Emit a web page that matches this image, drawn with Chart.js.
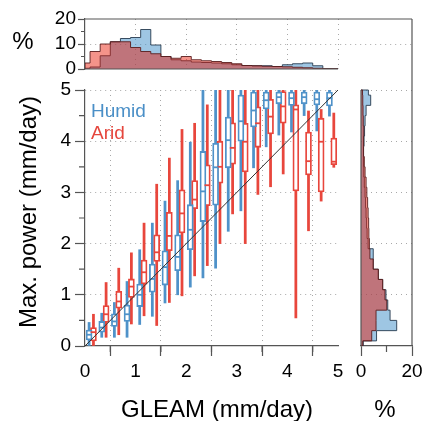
<!DOCTYPE html>
<html>
<head>
<meta charset="utf-8">
<script src="https://cdn.jsdelivr.net/npm/chart.js@4.4.1/dist/chart.umd.min.js"></script>
<style>
body { margin: 0; background: #fff; }
#wrap { position: relative; width: 427px; height: 421px; font-family: "Liberation Sans", Arial, sans-serif; }
#wrap canvas { position: absolute; left: 0; top: 0; }
.txt { position: absolute; white-space: nowrap; line-height: 1; color: #000; }
</style>
</head>
<body>
<div id="wrap">
  <canvas id="main" width="427" height="421"></canvas>
  <canvas id="topHist" width="427" height="421"></canvas>
  <canvas id="sideHist" width="427" height="421"></canvas>
  <div class="txt" style="left:23px;top:41px;font-size:24px;transform:translate(-50%,-50%);">%</div>
  <div class="txt" style="left:28px;top:212px;font-size:24px;transform:translate(-50%,-50%) rotate(-90deg);">Max. power (mm/day)</div>
  <div class="txt" style="left:217px;top:409px;font-size:24px;transform:translate(-50%,-50%);">GLEAM (mm/day)</div>
  <div class="txt" style="left:385px;top:409px;font-size:24px;transform:translate(-50%,-50%);">%</div>
  <div class="txt" style="left:91px;top:101px;font-size:19px;color:#4a8fc7;">Humid</div>
  <div class="txt" style="left:91px;top:123px;font-size:19px;color:#e5463d;">Arid</div>
</div>
<script>
// GLEAM bins (mm/day)
var gleamBins = [0.125, 0.375, 0.625, 0.875, 1.125, 1.375, 1.625, 1.875, 2.125, 2.375,
                 2.625, 2.875, 3.125, 3.375, 3.625, 3.875, 4.125, 4.375, 4.625, 4.875];

// Max. power boxplots, humid
var humidLow  = [0.00, 0.17, 0.17, 0.17, 0.42, 0.58, 0.84, 1.00, 1.15, 1.33, 1.52, 2.24, 2.64, 3.48, 3.89, 4.12, 4.18, 4.50, 4.20, 4.49];
var humidQ1   = [0.12, 0.27, 0.38, 0.48, 0.77, 1.05, 1.19, 1.47, 1.88, 2.43, 2.75, 3.48, 4.00, 4.28, 4.63, 4.73, 4.70, 4.73, 4.71, 4.69];
var humidMed  = [0.22, 0.36, 0.48, 0.62, 1.00, 1.31, 1.54, 1.74, 2.27, 3.02, 3.49, 4.02, 4.39, 4.60, 4.80, 4.86, 4.84, 4.86, 4.82, 4.84];
var humidQ3   = [0.31, 0.48, 0.63, 0.80, 1.21, 1.60, 1.86, 2.17, 2.76, 3.80, 3.96, 4.47, 4.90, 4.96, 4.96, 4.96, 4.96, 4.96, 4.96, 4.96];
var humidHigh = [0.46, 0.64, 0.85, 1.26, 1.88, 2.40, 2.83, 3.23, 3.98, 5.60, 5.80, 6.00, 6.20, 6.20, 6.30, 6.30, 6.30, 6.30, 6.30, 6.30];

// Max. power boxplots, arid
var aridLow  = [0.00, 0.17, 0.22, 0.43, 0.59, 0.40, 0.85, 0.98, 1.37, 1.57, 2.00, 2.58, 2.00, 2.96, 3.11, 3.36, 0.55, 2.25, 2.83, 3.49];
var aridQ1   = [0.10, 0.46, 0.74, 0.95, 1.21, 1.65, 1.86, 2.21, 2.68, 2.74, 3.18, 3.55, 3.40, 3.88, 4.14, 4.35, 3.03, 3.34, 3.01, 3.54];
var aridMed  = [0.27, 0.62, 0.87, 1.16, 1.44, 1.83, 2.15, 2.59, 2.86, 3.14, 3.50, 3.87, 3.99, 4.35, 4.48, 4.68, 4.62, 3.61, 3.99, 3.60];
var aridQ3   = [0.36, 0.79, 1.07, 1.31, 1.68, 2.17, 2.61, 3.05, 3.23, 3.54, 4.00, 4.36, 4.35, 4.67, 4.82, 4.97, 4.71, 4.18, 4.45, 4.06];
var aridHigh = [0.62, 1.24, 1.52, 1.82, 2.40, 3.16, 3.67, 4.23, 4.35, 4.71, 5.60, 5.60, 5.60, 5.60, 5.60, 5.60, 5.60, 4.59, 4.62, 4.55];

// histogram bin edges (left edge of each bin, last bin ends at 5)
var histEdges = [0, 0.1, 0.3, 0.5, 0.7, 0.9, 1.1, 1.3, 1.5, 1.7, 1.9, 2.1, 2.3,
                 2.5, 2.7, 2.9, 3.1, 3.3, 3.5, 3.7, 3.9, 4.1, 4.3, 4.5, 4.7, 4.9];

// GLEAM distribution (%)
var gleamArid  = [2.4, 7.0, 10.0, 10.9, 10.9, 8.6, 7.0, 6.1, 5.0, 4.3, 5.0, 3.7, 3.3,
                  3.0, 2.6, 2.1, 1.4, 1.3, 1.1, 1.0, 0.9, 0.7, 0.5, 0.3, 0.1, 0.1];
var gleamHumid = [0.3, 0.8, 5.3, 10.9, 12.2, 12.6, 15.8, 9.6, 5.0, 3.7, 3.3, 2.8, 2.6,
                  2.4, 2.1, 1.7, 1.4, 1.3, 1.3, 1.0, 1.7, 2.1, 2.4, 1.3, 0.1, 0.1];

// Max. power distribution (%)
var powerArid  = [0.7, 4.2, 5.9, 5.9, 10.1, 9.4, 8.5, 6.8, 4.8, 3.5, 3.3, 3.1, 3.0,
                  2.8, 2.6, 2.3, 2.0, 1.6, 1.3, 1.0, 1.0, 1.1, 0.9, 0.8, 0.7, 0.6];
var powerHumid = [0.9, 6.1, 14.0, 11.4, 10.5, 9.8, 8.5, 6.8, 4.8, 4.8, 2.8, 2.4, 2.2,
                  2.0, 1.8, 1.6, 1.3, 1.1, 1.0, 1.0, 1.2, 1.4, 1.6, 2.0, 3.8, 2.9];

var mainTicks = [0, 1, 2, 3, 4, 5];
var mainMinor = [0.5, 1.5, 2.5, 3.5, 4.5];
var topTicks = [0, 10, 20];
var topMinor = [5, 15];
var sideTicks = [0, 20];
var sideMinor = [10];

var BLUE = '#4f92c9', RED = '#e8463c';
var AXIS = '#555', GRID = '#a8a8a8', CLEAR = 'rgba(0,0,0,0)';
var DOTS = [1, 4];

Chart.defaults.font.family = '"Liberation Sans", Arial, sans-serif';
Chart.defaults.font.size = 19;
Chart.defaults.color = '#000';
Chart.defaults.animation = false;
Chart.defaults.events = [];
Chart.defaults.plugins.legend.display = false;
Chart.defaults.plugins.tooltip.enabled = false;

// minor tick marks and extra frame lines
var extras = {
  id: 'extras',
  afterDraw: function (chart, args, opts) {
    var ctx = chart.ctx, a = chart.chartArea;
    ctx.save();
    ctx.strokeStyle = AXIS;
    ctx.lineWidth = 1.2;
    ctx.beginPath();
    (opts.minor || []).forEach(function (m) {
      var sc = chart.scales[m.axis];
      m.values.forEach(function (v) {
        var p = sc.getPixelForValue(v);
        if (sc.isHorizontal()) { ctx.moveTo(p, a.bottom); ctx.lineTo(p, a.bottom + m.len); }
        else { ctx.moveTo(a.left, p); ctx.lineTo(a.left - m.len, p); }
      });
    });
    (opts.segs || []).forEach(function (s) {
      var sx = chart.scales.x, sy = chart.scales.y;
      ctx.moveTo(sx.getPixelForValue(s[0]), sy.getPixelForValue(s[1]));
      ctx.lineTo(sx.getPixelForValue(s[2]), sy.getPixelForValue(s[3]));
    });
    if (opts.frameTop) { ctx.moveTo(a.left, a.top); ctx.lineTo(a.right, a.top); }
    if (opts.frameRight) { ctx.moveTo(a.right, a.top); ctx.lineTo(a.right, a.bottom); }
    ctx.stroke();
    ctx.restore();
  }
};

function setTicks(list) {
  return function (axis) { axis.ticks = list.map(function (v) { return { value: v }; }); };
}
function gridAt(list) {
  return function (c) { return (c.tick && list.indexOf(c.tick.value) >= 0) ? GRID : CLEAR; };
}

// ---------- main boxplot panel ----------
function pts(arr, shift) {
  return gleamBins.map(function (b, i) { return { x: b + shift, y: arr[i] }; });
}
function range(lo, hi, shift) {
  return gleamBins.map(function (b, i) { return { x: b + shift, y: [lo[i], hi[i]] }; });
}
var H = -0.044, A = 0.042;

new Chart(document.getElementById('main'), {
  type: 'bar',
  data: {
    datasets: [
      { type: 'line', data: [{ x: 0, y: 0 }, { x: 5, y: 5 }], borderColor: '#333', borderWidth: 1,
        pointRadius: 0, order: 0 },
      { type: 'line', showLine: false, data: pts(humidMed, H), pointStyle: 'line', pointRadius: 2.8,
        pointBorderColor: BLUE, pointBorderWidth: 1.8, order: 1 },
      { type: 'line', showLine: false, data: pts(aridMed, A), pointStyle: 'line', pointRadius: 2.8,
        pointBorderColor: RED, pointBorderWidth: 1.8, order: 1 },
      { data: range(humidQ1, humidQ3, H), backgroundColor: '#fff', borderColor: BLUE, borderWidth: 1.8,
        borderSkipped: false, barThickness: 6, grouped: false, clip: 0, order: 2 },
      { data: range(aridQ1, aridQ3, A), backgroundColor: '#fff', borderColor: RED, borderWidth: 1.8,
        borderSkipped: false, barThickness: 6, grouped: false, clip: 0, order: 2 },
      { data: range(humidLow, humidHigh, H), backgroundColor: BLUE, borderWidth: 0,
        barThickness: 2.1, grouped: false, clip: 0, order: 3 },
      { data: range(aridLow, aridHigh, A), backgroundColor: RED, borderWidth: 0,
        barThickness: 2.1, grouped: false, clip: 0, order: 3 }
    ]
  },
  options: {
    responsive: false,
    layout: { padding: { left: 0, top: 90, right: 89, bottom: 0 } },
    scales: {
      x: {
        type: 'linear', min: 0, max: 5, offset: false,
        afterBuildTicks: setTicks(mainTicks),
        afterFit: function (s) { s.height = 75; },
        ticks: { padding: 4, autoSkip: false, maxRotation: 0 },
        grid: { color: gridAt([1, 2, 3, 4, 5]), tickColor: AXIS, tickLength: 10, tickWidth: 1.2 },
        border: { color: AXIS, width: 1.2, dash: DOTS }
      },
      y: {
        min: 0, max: 5,
        afterBuildTicks: setTicks(mainTicks),
        afterFit: function (s) { s.width = 85; },
        ticks: { padding: 4, autoSkip: false },
        grid: { color: gridAt([1, 2, 3, 4, 5]), tickColor: AXIS, tickLength: 10, tickWidth: 1.2 },
        border: { color: AXIS, width: 1.2, dash: DOTS }
      }
    },
    plugins: {
      extras: { minor: [{ axis: 'x', values: mainMinor, len: 6 }, { axis: 'y', values: mainMinor, len: 6 }] }
    }
  },
  plugins: [extras]
});

// ---------- top histogram (GLEAM) ----------
function stepH(vals) {
  return [{ x: 0, y: 0 }].concat(histEdges.map(function (e, i) { return { x: e, y: vals[i] }; }), [{ x: 5, y: 0 }]);
}

new Chart(document.getElementById('topHist'), {
  type: 'line',
  data: {
    datasets: [
      { data: stepH(gleamArid), stepped: 'before', fill: 'origin', backgroundColor: 'rgba(230,20,0,0.46)',
        borderColor: 'rgba(90,30,30,0.9)', borderWidth: 1, pointRadius: 0 },
      { data: stepH(gleamHumid), stepped: 'before', fill: 'origin', backgroundColor: 'rgba(61,141,199,0.5)',
        borderColor: 'rgba(40,60,80,0.9)', borderWidth: 1, pointRadius: 0 }
    ]
  },
  options: {
    responsive: false,
    layout: { padding: { left: 0, top: 19, right: 15, bottom: 352 } },
    scales: {
      x: {
        type: 'linear', min: 0, max: 6.462,
        afterBuildTicks: setTicks([1, 2, 3, 4, 5]),
        afterFit: function (s) { s.height = 0; },
        ticks: { display: false },
        grid: { color: GRID, drawTicks: false },
        border: { display: false, dash: DOTS }
      },
      y: {
        min: 0, max: 20,
        afterBuildTicks: setTicks(topTicks),
        afterFit: function (s) { s.width = 85; },
        ticks: { padding: 2, autoSkip: false },
        grid: { color: gridAt([10]), tickColor: AXIS, tickLength: 7, tickWidth: 1.2 },
        border: { color: AXIS, width: 1.2, dash: DOTS }
      }
    },
    plugins: {
      extras: { minor: [{ axis: 'y', values: topMinor, len: 4 }], segs: [[0, 0, 5, 0]], frameTop: true }
    }
  },
  plugins: [extras]
});

// ---------- side histogram (max. power) ----------
function stepV(vals) {
  return [{ x: 0, y: 0 }].concat(histEdges.map(function (e, i) { return { x: vals[i], y: e }; }), [{ x: 0, y: 5 }]);
}

new Chart(document.getElementById('sideHist'), {
  type: 'line',
  data: {
    datasets: [
      { data: stepV(powerArid), stepped: 'after', fill: 'origin', backgroundColor: 'rgba(230,20,0,0.46)',
        borderColor: 'rgba(90,30,30,0.9)', borderWidth: 1, pointRadius: 0 },
      { data: stepV(powerHumid), stepped: 'after', fill: 'origin', backgroundColor: 'rgba(61,141,199,0.5)',
        borderColor: 'rgba(40,60,80,0.9)', borderWidth: 1, pointRadius: 0 }
    ]
  },
  options: {
    responsive: false,
    indexAxis: 'y',
    layout: { padding: { left: 0, top: 19, right: 15, bottom: 0 } },
    scales: {
      x: {
        type: 'linear', min: 0, max: 20,
        afterBuildTicks: setTicks(sideTicks),
        afterFit: function (s) { s.height = 75; },
        ticks: { padding: 4, autoSkip: false, maxRotation: 0 },
        grid: { drawOnChartArea: false, tickColor: AXIS, tickLength: 10, tickWidth: 1.2 },
        border: { color: AXIS, width: 1.2 }
      },
      y: {
        type: 'linear', min: 0, max: 6.387,
        afterBuildTicks: setTicks([1, 2, 3, 4, 5]),
        afterFit: function (s) { s.width = 361; },
        ticks: { display: false },
        grid: { color: GRID, drawTicks: false },
        border: { display: false, dash: DOTS }
      }
    },
    plugins: {
      extras: { minor: [{ axis: 'x', values: sideMinor, len: 6 }], segs: [[0, 0, 0, 5]], frameRight: true }
    }
  },
  plugins: [extras]
});
</script>
</body>
</html>
